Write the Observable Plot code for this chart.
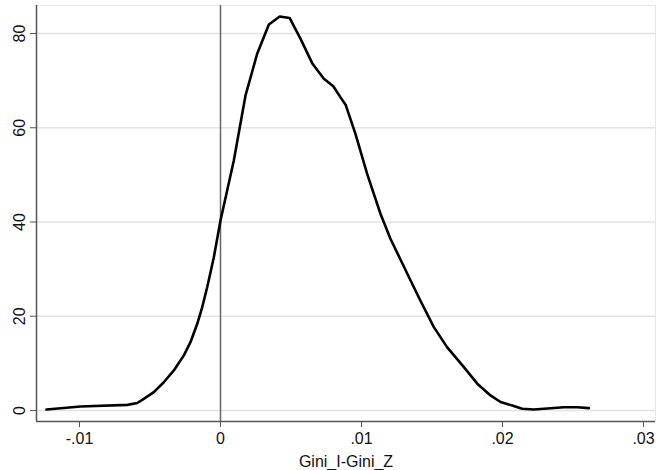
<!DOCTYPE html>
<html><head><meta charset="utf-8">
<script src="https://cdn.jsdelivr.net/npm/d3@7"></script>
<script src="https://cdn.jsdelivr.net/npm/@observablehq/plot@0.6"></script>
<style>body{margin:0;background:#fff}</style>
</head><body><div id="chart"></div>
<script>
const gx = [-0.01234,-0.00993,-0.0066,-0.0059,-0.00544,-0.00473,-0.00402,-0.00331,-0.0026,-0.00213,-0.00165,-0.0013,-0.00094,-0.00048,0,0.00094,0.00177,0.0026,0.00343,0.0042,0.0049,0.00567,0.0065,0.00733,0.008,0.0085,0.00887,0.00957,0.0104,0.01135,0.01206,0.01348,0.01418,0.01513,0.01608,0.01726,0.01821,0.01915,0.01986,0.02069,0.0214,0.02222,0.02317,0.02435,0.0253,0.02612];
const density = [0.2,0.85,1.2,1.6,2.48,3.9,6.0,8.5,11.7,14.5,18.4,21.9,26.2,32.4,40.3,53.0,66.8,75.7,81.9,83.6,83.3,78.9,73.7,70.4,68.8,66.5,64.9,58.7,50.2,41.7,36.4,27.6,23.3,17.7,13.4,9.2,5.7,3.2,1.8,1.06,0.36,0.2,0.42,0.7,0.7,0.5];
const xTicks = [-0.01,0,0.01,0.02,0.03];
const yTicks = [0,20,40,60,80];
const xLabel = "Gini_I-Gini_Z";

const data = gx.map((x,i)=>({x, y: density[i]}));
const xDom = [-0.01305, 0.03085];
const yDom = [-2.33, 85.94];
const fmt = d => d === 0 ? "0" : d3.format(".2f")(d).replace(/^[\u2212-]/, "-").replace(/^(-?)0\./, "$1.");

const chart = Plot.plot({
  width: 656, height: 470,
  marginLeft: 36, marginRight: 1, marginTop: 5, marginBottom: 49,
  style: {fontFamily: "'Liberation Sans', Arial, sans-serif", fontSize: "16px", color: "#111", background: "#fff"},
  x: {domain: xDom},
  y: {domain: yDom},
  marks: [
    Plot.frame({stroke: "#e6e6e6"}),
    Plot.gridY(yTicks, {stroke: "#e3e3e3", strokeOpacity: 1, strokeWidth: 1.3}),
    Plot.ruleX([0], {stroke: "#666", strokeWidth: 1.5}),
    Plot.ruleX([xDom[0]], {stroke: "#555", strokeWidth: 1.5}),
    Plot.ruleY([yDom[0]], {stroke: "#555", strokeWidth: 1.5}),
    Plot.axisX(xTicks, {tickFormat: fmt, tickSize: 6, tickPadding: 5, stroke: "#555", fontSize: 16, label: xLabel, labelAnchor: "center", labelOffset: 45, labelArrow: "none"}),
    Plot.axisY(yTicks, {tickSize: 6, tickPadding: 6, stroke: "#555", fontSize: 16, tickRotate: -90, label: null}),
    Plot.line(data, {x: "x", y: "y", stroke: "#000", strokeWidth: 2.6, strokeLinejoin: "round"})
  ]
});
document.getElementById("chart").appendChild(chart);
</script>
</body></html>
